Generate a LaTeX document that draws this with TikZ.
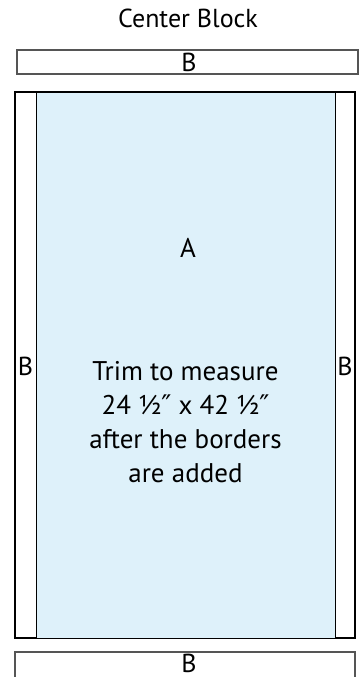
\documentclass[tikz,border=0pt]{standalone}
\usepackage{fontspec}
\setmainfont{PT Sans}
\newfontfamily\primefont{DejaVu Sans}
\definecolor{blockblue}{HTML}{DEF1FA}
\definecolor{stripgray}{HTML}{555555}
\newcommand{\inch}{{\primefont\fontsize{27}{30}\selectfont ″}}
\begin{document}
\begin{tikzpicture}[x=1pt,y=-1pt,
    strip/.style={draw=stripgray, line width=1.4pt, fill=white},
    lbl/.style={font=\fontsize{26}{30}\selectfont, inner sep=0pt, anchor=base},
    big/.style={font=\fontsize{27}{33.7}\selectfont, inner sep=0pt, anchor=base, align=center}]
  \useasboundingbox (0,0) rectangle (362,677);
  \clip (0,0) rectangle (362,677);
  % border strips
  \draw[strip] (17,50) rectangle (358,74);
  \draw[strip] (15,652) rectangle (355,700);
  % side borders and center
  \draw[line width=1.1pt] (15,92) rectangle (355,638);
  \draw[line width=1pt, fill=blockblue] (36,92) rectangle (335,638);
  \node[lbl] (title) at (188,28) {Center Block};
  \node[lbl] (btop) at (189,71) {B};
  \node[lbl] (bbot) at (189,672) {B};
  \node[lbl] (bleft) at (25.5,375) {B};
  \node[lbl] (bright) at (345,375) {B};
  \node[big] (a) at (188,257) {A};
  \node[big] (trim) at (185.5,482) {Trim to measure\\24 ½\inch\ x 42 ½\inch\\after the borders\\are added};
\end{tikzpicture}
\end{document}
